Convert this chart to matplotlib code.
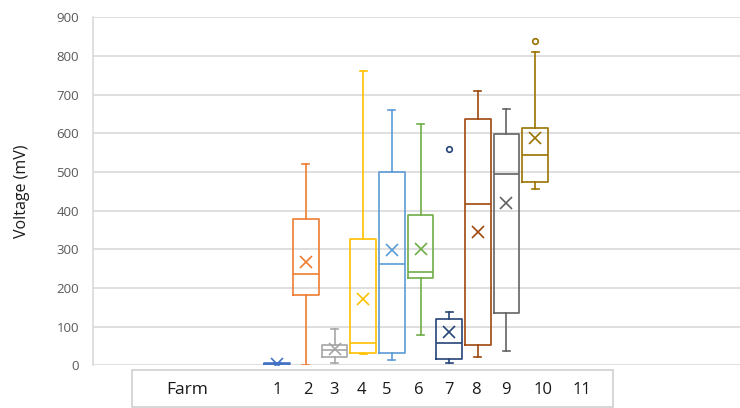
"""Box plots of voltage per farm, Excel-style, with a 'Farm' label row below."""
import matplotlib
matplotlib.use('Agg')
import matplotlib.pyplot as plt
from matplotlib.patches import Rectangle

# data (mV)
farm_labels = ['1', '2', '3', '4', '5', '6', '7', '8', '9', '10', '11']
whislo = [2, 2, 5, 28, 13, 79, 5, 21, 36, 457]
q1 = [3, 183, 21, 33, 31, 226, 17, 52, 136, 475]
med = [4, 236, 40, 58, 261, 242, 58, 417, 496, 544]
q3 = [5, 378, 52, 326, 500, 388, 121, 638, 597, 614]
whishi = [6, 520, 93, 760, 660, 623, 138, 710, 663, 809]
means = [4, 266, 43, 171, 298, 301, 86, 346, 419, 589]
fliers = [[], [], [], [], [], [], [560], [], [], [840]]
yticks = [0, 100, 200, 300, 400, 500, 600, 700, 800, 900]

colors = ['#4472C4', '#ED7D31', '#A5A5A5', '#FFC000', '#5B9BD5',
          '#70AD47', '#264478', '#9E480E', '#636363', '#997300']

W, H = 740, 408
fig = plt.figure(figsize=(W / 100, H / 100), dpi=100)
plt.rcParams['font.family'] = ['Open Sans', 'DejaVu Sans']

# axes box in pixels: left 93, top 17, bottom 365, right edge of image
ax = fig.add_axes([93 / W, (H - 365.3) / H, (W - 93) / W, 348 / H])
ax.set_xlim(-5.43, 17.15)
ax.set_ylim(0, 900)

for i in range(len(med)):
    stats = [dict(whislo=whislo[i], q1=q1[i], med=med[i], q3=q3[i],
                  whishi=whishi[i], mean=means[i], fliers=fliers[i])]
    c = colors[i]
    lw = 1.2
    ax.bxp(stats, positions=[i + 1], widths=0.9, showmeans=True,
           boxprops=dict(color=c, linewidth=lw),
           medianprops=dict(color=c, linewidth=lw),
           whiskerprops=dict(color=c, linewidth=lw),
           capprops=dict(color=c, linewidth=lw),
           capwidths=0.25,
           meanprops=dict(marker='x', markeredgecolor=c, markersize=8.5,
                          markeredgewidth=1.2),
           flierprops=dict(marker='o', markerfacecolor='none',
                           markeredgecolor=c, markersize=4,
                           markeredgewidth=1.2),
           manage_ticks=False)

ax.set_yticks(yticks)
ax.set_xticks([])
ax.tick_params(axis='y', length=0, pad=10, labelsize=9.5, labelcolor='#595959')
ax.grid(axis='y', color='#d9d9d9', linewidth=1.2)
ax.set_axisbelow(True)
for side in ['top', 'right', 'bottom']:
    ax.spines[side].set_visible(False)
ax.spines['left'].set_color('#d9d9d9')
ax.spines['left'].set_linewidth(1.2)
ax.set_ylabel('Voltage (mV)', fontsize=11.5, labelpad=19, color='#1a1a1a')

# the 'Farm' row below the plot, like a pasted sheet row
fig.patches.append(Rectangle((131.7 / W, 1.5 / H), (612.5 - 131.7) / W,
                             (407 - 370.7) / H, transform=fig.transFigure,
                             fill=False, edgecolor='#cfcfcf', linewidth=1.2))
label_x = [277, 308, 334, 361, 387, 419, 449, 476, 506, 543, 582]
row_y = 1 - 390 / H
fig.text(187 / W, row_y, 'Farm', ha='center', va='center', fontsize=12.5,
         color='#1a1a1a')
for x, lab in zip(label_x, farm_labels):
    fig.text(x / W, row_y, lab, ha='center', va='center', fontsize=12,
             color='#1a1a1a')

fig.savefig('out.png', dpi=100)
